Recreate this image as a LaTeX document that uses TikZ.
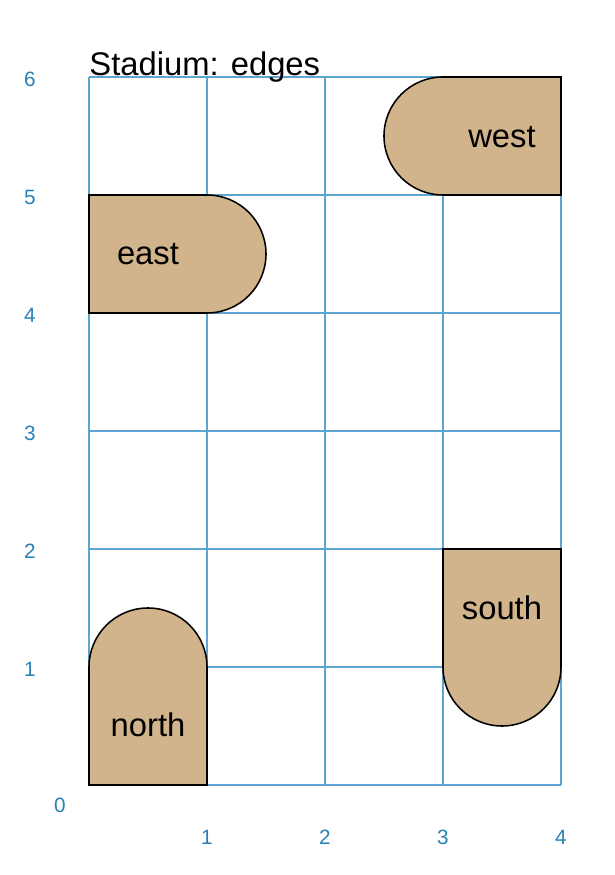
\documentclass[tikz,border=0pt]{standalone}
\usepackage{fontspec}
\setmainfont{Liberation Sans}
\definecolor{gridc}{RGB}{95,165,210}
\definecolor{labc}{RGB}{40,128,182}
\definecolor{shapefill}{RGB}{210,180,140}
\begin{document}
\begin{tikzpicture}[x=2cm,y=2cm,
  gridline/.style={draw=gridc,line width=0.5pt},
  axlab/.style={text=labc,font=\fontsize{10}{12}\selectfont,inner sep=0pt},
  stadium/.style={fill=shapefill,draw=black,line width=0.75pt},
  shapelab/.style={font=\fontsize{15.8}{18}\selectfont,inner sep=0pt}]
\useasboundingbox (-0.7542,-0.7627) rectangle (4.4576,6.6525);
% grid
\foreach \x in {0,1,2,3,4} \draw[gridline] (\x,0) -- (\x,6);
\foreach \y in {0,1,2,3,4,5,6} \draw[gridline] (0,\y) -- (4,\y);
% axis labels
\foreach \y in {1,2,3,4,5,6} \node[axlab] (ly\y) at (-0.5,\y-0.02) {\y};
\node[axlab] (l0) at (-0.246,-0.17) {0};
\foreach \x in {1,2,3,4} \node[axlab] (lx\x) at (\x,-0.44) {\x};
% title
\node[anchor=base west,inner sep=0pt,font=\fontsize{15.8}{18}\selectfont] (title) at (0,6.01) {Stadium: edges};
% stadium shapes
\draw[stadium] (0,0) -- (1,0) -- (1,1) arc[start angle=0,end angle=180,radius=0.5] -- cycle;
\draw[stadium] (0,4) -- (1,4) arc[start angle=-90,end angle=90,radius=0.5] -- (0,5) -- cycle;
\draw[stadium] (4,5) -- (4,6) -- (3,6) arc[start angle=90,end angle=270,radius=0.5] -- cycle;
\draw[stadium] (3,2) -- (4,2) -- (4,1) arc[start angle=0,end angle=-180,radius=0.5] -- cycle;
% labels
\node[shapelab] (north) at (0.5,0.51) {north};
\node[shapelab] (east) at (0.5,4.5) {east};
\node[shapelab] (west) at (3.5,5.49) {west};
\node[shapelab] (south) at (3.5,1.5) {south};
\end{tikzpicture}
\end{document}
